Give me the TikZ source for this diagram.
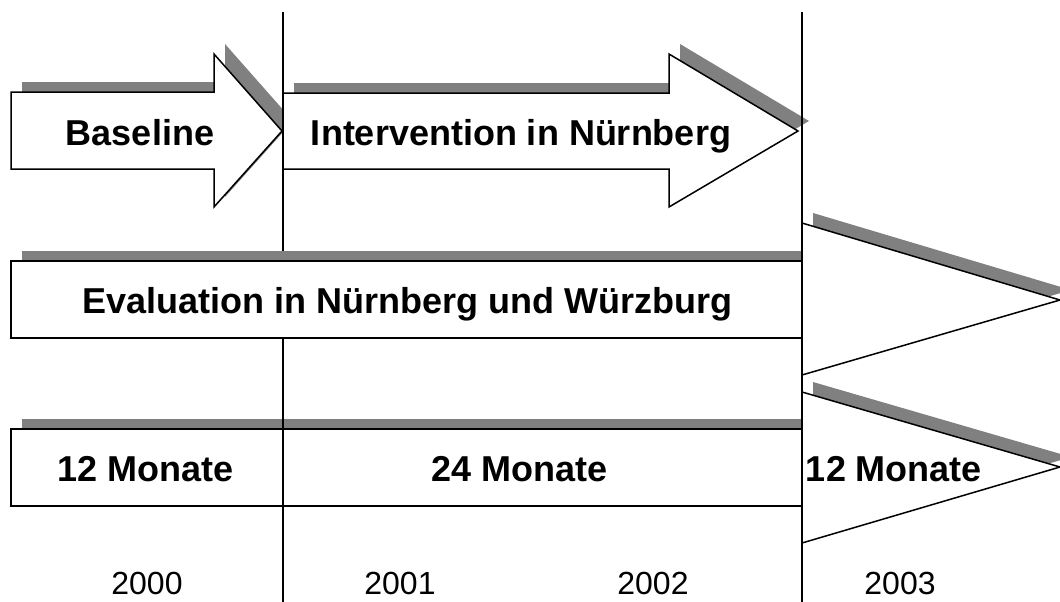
\documentclass[tikz,border=0pt]{standalone}
\usepackage{fontspec}
\setmainfont{Liberation Sans}
\begin{document}
\begin{tikzpicture}[x=1pt,y=-1pt,
  boxshape/.style={draw=black,fill=white,line width=1.5pt,line join=miter},
  shadowfill/.style={fill=shadowgray,draw=none},
  divider/.style={draw=black,line width=2.3pt},
  bigtext/.style={anchor=base,inner sep=0pt,font=\fontsize{36}{40}\selectfont\bfseries},
  yeartext/.style={anchor=base,inner sep=0pt,font=\fontsize{32}{36}\selectfont}]
\definecolor{shadowgray}{RGB}{128,128,128}
\useasboundingbox (0,0) rectangle (1060,602);
% Baseline arrow
\fill[shadowfill,shift={(11,-10)}] (11,92) -- (214,92) -- (214,54) -- (282,131) -- (214,207) -- (214,169) -- (11,169) -- cycle;
\draw[boxshape] (11,92) -- (214,92) -- (214,54) -- (282,131) -- (214,207) -- (214,169) -- (11,169) -- cycle;
% Intervention arrow
\fill[shadowfill,shift={(11,-10)}] (283,93) -- (669,93) -- (669,54) -- (798,131) -- (669,207) -- (669,169) -- (283,169) -- cycle;
\draw[boxshape] (283,93) -- (669,93) -- (669,54) -- (798,131) -- (669,207) -- (669,169) -- (283,169) -- cycle;
% Bottom bar
\fill[shadowfill] (22,419) rectangle (813,429);
\draw[boxshape] (11,429) rectangle (802,506);
% first divider
\coordinate (d1top) at (283,12);
\coordinate (d1bot) at (283,602);
\draw[divider] (d1top) -- (d1bot);
% Evaluation bar
\fill[shadowfill] (22,251) rectangle (813,261);
\draw[boxshape] (11,261) rectangle (802,338);
% Triangles
\fill[shadowfill,shift={(11,-10)}] (802,223) -- (1060,300) -- (802,375) -- cycle;
\draw[boxshape] (802,223) -- (1060,300) -- (802,375) -- cycle;
\fill[shadowfill,shift={(11,-10)}] (802,392) -- (1060,467) -- (802,543) -- cycle;
\draw[boxshape] (802,392) -- (1060,467) -- (802,543) -- cycle;
% second divider
\coordinate (d2top) at (802,12);
\coordinate (d2bot) at (802,602);
\draw[divider] (d2top) -- (d2bot);
% Texts
\node[bigtext] (tbase) at (140,145) {Baseline};
\node[bigtext] (tint) at (521,145) {Intervention in Nürnberg};
\node[bigtext] (teval) at (407,313) {Evaluation in Nürnberg und Würzburg};
\node[bigtext] (tm1) at (146,481) {12 Monate};
\node[bigtext] (tm2) at (520,481) {24 Monate};
\node[bigtext] (tm3) at (894,481) {12 Monate};
\node[yeartext] (y0) at (147,594) {2000};
\node[yeartext] (y1) at (400,594) {2001};
\node[yeartext] (y2) at (653,594) {2002};
\node[yeartext] (y3) at (900,594) {2003};
\end{tikzpicture}
\end{document}
